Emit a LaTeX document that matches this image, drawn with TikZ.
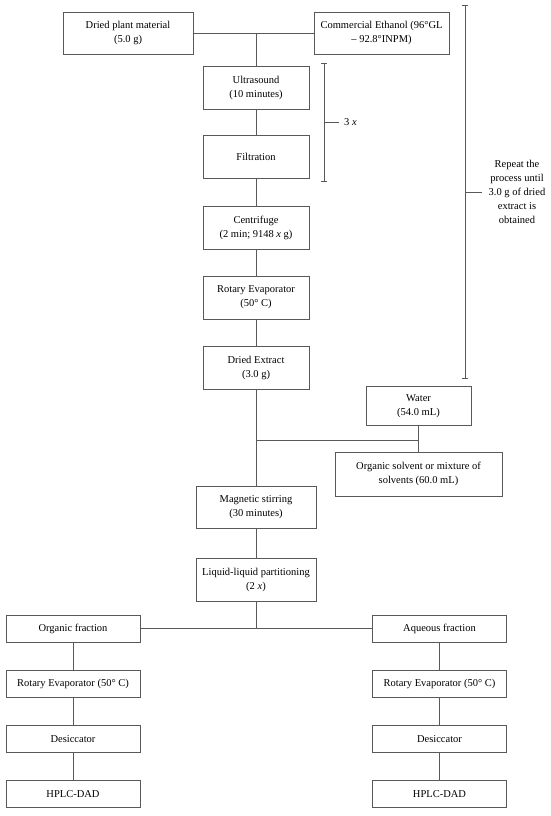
\documentclass[tikz,border=0pt]{standalone}
\usepackage{fontspec}
\setmainfont{Liberation Serif}
\usetikzlibrary{arrows.meta}

\begin{document}
\begin{tikzpicture}[x=1pt, y=-1pt,
    box/.style={draw=black!65, line width=0.7pt, align=center, inner sep=2pt,
      font=\fontsize{10.5}{14}\selectfont},
    link/.style={draw=black!65, line width=0.7pt},
    bracketline/.style={draw=black!65, line width=0.7pt, {Bar[width=6pt]}-{Bar[width=6pt]}}]
      \useasboundingbox (0,0) rectangle (550,816);

      % extraction
      \node[box, minimum width=130pt, minimum height=42pt] (plant) at (128, 33) {Dried plant material\\(5.0 g)};
      \node[box, minimum width=135pt, minimum height=42pt] (ethanol) at (381.5, 33) {Commercial Ethanol (96°GL\\– 92.8°INPM)};
      \node[box, minimum width=106pt, minimum height=43pt] (ultra) at (256, 87.5) {Ultrasound\\(10 minutes)};
      \node[box, minimum width=106pt, minimum height=43pt] (filt) at (256, 157) {Filtration};
      \node[box, minimum width=106pt, minimum height=43pt] (centri) at (256, 227.5) {Centrifuge\\(2 min; 9148 \textit{x} g)};
      \node[box, minimum width=106pt, minimum height=43pt] (rotary) at (256, 297.5) {Rotary Evaporator\\(50° C)};
      \node[box, minimum width=106pt, minimum height=43pt] (extract) at (256, 367.5) {Dried Extract\\(3.0 g)};

      % partitioning
      \node[box, minimum width=105pt, minimum height=39pt] (water) at (418.5, 406) {Water\\(54.0 mL)};
      \node[box, minimum width=167pt, minimum height=44pt] (solvent) at (418.5, 474) {Organic solvent or mixture of\\solvents (60.0 mL)};
      \node[box, minimum width=120pt, minimum height=42pt] (stir) at (256, 507) {Magnetic stirring\\(30 minutes)};
      \node[box, minimum width=120pt, minimum height=43pt] (part) at (256, 579.5) {Liquid-liquid partitioning\\(2 \textit{x})};

      % fractions
      \node[box, minimum width=134pt, minimum height=27pt] (org) at (73, 628.5) {Organic fraction};
      \node[box, minimum width=134pt, minimum height=27pt] (orgrot) at (73, 684) {Rotary Evaporator (50° C)};
      \node[box, minimum width=134pt, minimum height=27pt] (orgdes) at (73, 739) {Desiccator};
      \node[box, minimum width=134pt, minimum height=27pt] (orghplc) at (73, 794) {HPLC-DAD};
      \node[box, minimum width=134pt, minimum height=27pt] (aq) at (439.5, 628.5) {Aqueous fraction};
      \node[box, minimum width=134pt, minimum height=27pt] (aqrot) at (439.5, 684) {Rotary Evaporator (50° C)};
      \node[box, minimum width=134pt, minimum height=27pt] (aqdes) at (439.5, 739) {Desiccator};
      \node[box, minimum width=134pt, minimum height=27pt] (aqhplc) at (439.5, 794) {HPLC-DAD};

      \coordinate (mix) at (256, 33);
      \coordinate (join) at (256, 440);
      \coordinate (joinw) at (418.5, 440);
      \coordinate (split) at (256, 628.5);

      \draw[link] (plant) -- (ethanol);
      \draw[link] (mix) -- (ultra);
      \draw[link] (ultra) -- (filt);
      \draw[link] (filt) -- (centri);
      \draw[link] (centri) -- (rotary);
      \draw[link] (rotary) -- (extract);
      \draw[link] (extract) -- (stir);
      \draw[link] (water) -- (solvent);
      \draw[link] (join) -- (joinw);
      \draw[link] (stir) -- (part);
      \draw[link] (part) -- (split);
      \draw[link] (org) -- (aq);
      \draw[link] (org) -- (orgrot);
      \draw[link] (orgrot) -- (orgdes);
      \draw[link] (orgdes) -- (orghplc);
      \draw[link] (aq) -- (aqrot);
      \draw[link] (aqrot) -- (aqdes);
      \draw[link] (aqdes) -- (aqhplc);

      % repetition brackets
      \coordinate (small1) at (324, 63);
      \coordinate (small2) at (324, 182);
      \coordinate (smallmid) at (324, 122);
      \coordinate (smalltick) at (339, 122);
      \draw[bracketline] (small1) -- (small2);
      \draw[link] (smallmid) -- (smalltick);
      \node[font=\fontsize{10.5}{14}\selectfont, anchor=west, inner sep=2pt] (three) at (342, 122) {3 \textit{x}};

      \coordinate (big1) at (465, 5);
      \coordinate (big2) at (465, 379);
      \coordinate (bigmid) at (465, 192);
      \coordinate (bigtick) at (482, 192);
      \draw[bracketline] (big1) -- (big2);
      \draw[link] (bigmid) -- (bigtick);
      \node[font=\fontsize{10.5}{14}\selectfont, align=center, inner sep=1pt] (repeat) at (517, 192) {Repeat the\\process until\\3.0 g of dried\\extract is\\obtained};

    \end{tikzpicture}
\end{document}
